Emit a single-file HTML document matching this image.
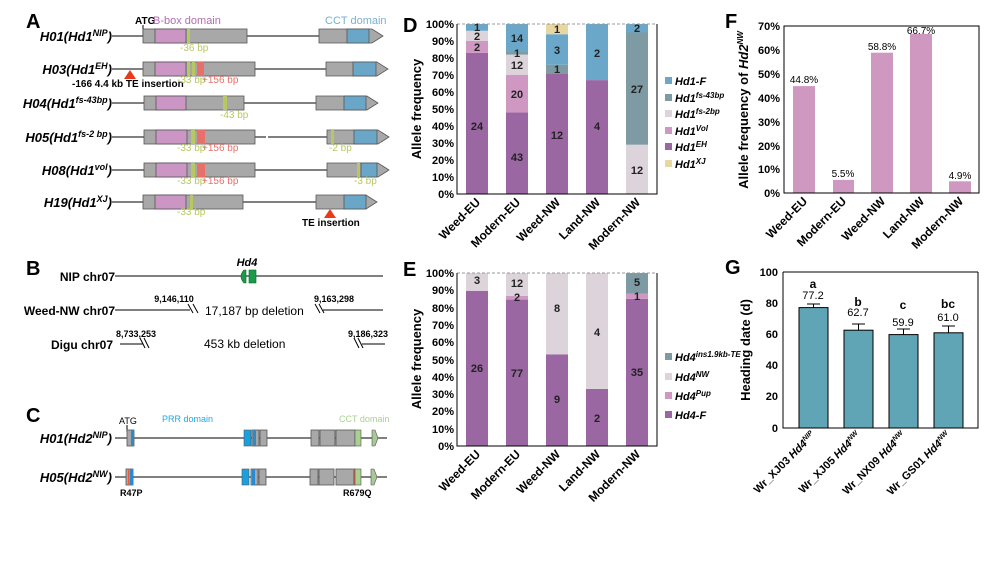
<!DOCTYPE html>
<html><head><meta charset="utf-8"><style>
html,body{margin:0;padding:0;background:#fff;}
svg{display:block;font-family:"Liberation Sans",Arial,sans-serif;}
.pl{font-size:20px;font-weight:bold;}
.rl{font-size:13px;font-weight:bold;font-style:italic;}
.sm{font-size:10px;}
.tk{font-size:11px;font-weight:bold;text-anchor:end;}
.bl{font-size:11px;font-weight:bold;text-anchor:middle;fill:#222;}
.xl{font-size:12px;font-weight:bold;text-anchor:end;}
.lg{font-size:11px;font-weight:bold;font-style:italic;}
.ex{fill:#a8a8a8;stroke:#555;stroke-width:.8;}
</style></head><body>
<svg width="996" height="561" viewBox="0 0 996 561" xmlns="http://www.w3.org/2000/svg">
<!-- Panel A -->
<text x="26" y="28" class="pl">A</text>
<text x="135" y="24" font-size="10" font-weight="bold">ATG</text>
<line x1="143" y1="25" x2="143" y2="36" stroke="#000"/>
<text x="153" y="24" font-size="11" fill="#b06db0">B-box domain</text>
<text x="325" y="24" font-size="11" fill="#7ab0d0">CCT domain</text>
<g stroke="#000" stroke-width="1">
<line x1="112" y1="36" x2="143" y2="36"/><line x1="247" y1="36" x2="319" y2="36"/>
<line x1="112" y1="69" x2="143" y2="69"/><line x1="255" y1="69" x2="326" y2="69"/>
<line x1="112" y1="103" x2="144" y2="103"/><line x1="244" y1="103" x2="316" y2="103"/>
<line x1="112" y1="137" x2="144" y2="137"/><line x1="255" y1="137" x2="266" y2="137"/><line x1="268" y1="137" x2="327" y2="137"/>
<line x1="112" y1="170" x2="144" y2="170"/><line x1="255" y1="170" x2="327" y2="170"/>
<line x1="112" y1="202" x2="143" y2="202"/><line x1="243" y1="202" x2="316" y2="202"/>
</g>
<text x="112" y="41" text-anchor="end" class="rl">H01(Hd1<tspan font-size="9" dy="-5">NIP</tspan><tspan dy="5">)</tspan></text>
<text x="112" y="74" text-anchor="end" class="rl">H03(Hd1<tspan font-size="9" dy="-5">EH</tspan><tspan dy="5">)</tspan></text>
<text x="112" y="108" text-anchor="end" class="rl">H04(Hd1<tspan font-size="9" dy="-5">fs-43bp</tspan><tspan dy="5">)</tspan></text>
<text x="112" y="142" text-anchor="end" class="rl">H05(Hd1<tspan font-size="9" dy="-5">fs-2 bp</tspan><tspan dy="5">)</tspan></text>
<text x="112" y="175" text-anchor="end" class="rl">H08(Hd1<tspan font-size="9" dy="-5">vol</tspan><tspan dy="5">)</tspan></text>
<text x="112" y="207" text-anchor="end" class="rl">H19(Hd1<tspan font-size="9" dy="-5">XJ</tspan><tspan dy="5">)</tspan></text>
<!-- row1 -->
<rect x="143" y="29" width="104" height="14" class="ex"/><rect x="155" y="29" width="31" height="14" fill="#cc96c4" stroke="#555" stroke-width=".8"/><rect x="187" y="29" width="3" height="14" fill="#b8c860"/>
<path d="M319 29H372L383 36L372 43H319Z" class="ex"/><rect x="347" y="29" width="22" height="14" fill="#6aa6c8" stroke="#555" stroke-width=".8"/>
<text x="180" y="51" font-size="10" fill="#b8c860">-36 bp</text>
<!-- row2 -->
<rect x="143" y="62" width="112" height="14" class="ex"/><rect x="155" y="62" width="31" height="14" fill="#cc96c4" stroke="#555" stroke-width=".8"/><rect x="187" y="62" width="3" height="14" fill="#b8c860"/><rect x="192" y="62" width="3" height="14" fill="#b8c860"/><rect x="197" y="62" width="7" height="14" fill="#e8706a"/>
<path d="M326 62H377L388 69L377 76H326Z" class="ex"/><rect x="353" y="62" width="23" height="14" fill="#6aa6c8" stroke="#555" stroke-width=".8"/>
<path d="M130 70L136 79H124Z" fill="#e83a1a"/>
<text x="72" y="87" font-size="10" font-weight="bold">-166 4.4 kb TE insertion</text>
<text x="177" y="83" font-size="10" fill="#b8c860">-33 bp</text><text x="202" y="83" font-size="10" fill="#e8706a">+156 bp</text>
<!-- row3 -->
<rect x="144" y="96" width="100" height="14" class="ex"/><rect x="156" y="96" width="30" height="14" fill="#cc96c4" stroke="#555" stroke-width=".8"/><rect x="223" y="96" width="4" height="14" fill="#b8c860"/>
<path d="M316 96H367L378 103L367 110H316Z" class="ex"/><rect x="344" y="96" width="22" height="14" fill="#6aa6c8" stroke="#555" stroke-width=".8"/>
<text x="220" y="118" font-size="10" fill="#b8c860">-43 bp</text>
<!-- row4 -->
<rect x="144" y="130" width="111" height="14" class="ex"/><rect x="156" y="130" width="31" height="14" fill="#cc96c4" stroke="#555" stroke-width=".8"/><rect x="191" y="130" width="4" height="14" fill="#b8c860"/><rect x="197" y="130" width="8" height="14" fill="#e8706a"/>
<path d="M327 130H378L389 137L378 144H327Z" class="ex"/><rect x="331" y="130" width="3" height="14" fill="#b8c860"/><rect x="354" y="130" width="23" height="14" fill="#6aa6c8" stroke="#555" stroke-width=".8"/>
<text x="177" y="151" font-size="10" fill="#b8c860">-33 bp</text><text x="202" y="151" font-size="10" fill="#e8706a">+156 bp</text>
<text x="329" y="151" font-size="10" fill="#b8c860">-2 bp</text>
<!-- row5 -->
<rect x="144" y="163" width="111" height="14" class="ex"/><rect x="156" y="163" width="31" height="14" fill="#cc96c4" stroke="#555" stroke-width=".8"/><rect x="191" y="163" width="4" height="14" fill="#b8c860"/><rect x="197" y="163" width="8" height="14" fill="#e8706a"/>
<path d="M327 163H378L389 170L378 177H327Z" class="ex"/><rect x="361" y="163" width="16" height="14" fill="#6aa6c8" stroke="#555" stroke-width=".8"/><rect x="357" y="163" width="3" height="14" fill="#b8c860"/>
<text x="177" y="184" font-size="10" fill="#b8c860">-33 bp</text><text x="202" y="184" font-size="10" fill="#e8706a">+156 bp</text>
<text x="354" y="184" font-size="10" fill="#b8c860">-3 bp</text>
<!-- row6 -->
<rect x="143" y="195" width="100" height="14" class="ex"/><rect x="155" y="195" width="31" height="14" fill="#cc96c4" stroke="#555" stroke-width=".8"/><rect x="190" y="195" width="3" height="14" fill="#b8c860"/>
<path d="M316 195H366L377 202L366 209H316Z" class="ex"/><rect x="344" y="195" width="22" height="14" fill="#6aa6c8" stroke="#555" stroke-width=".8"/>
<path d="M330 209L336 218H324Z" fill="#e83a1a"/>
<text x="177" y="215" font-size="10" fill="#b8c860">-33 bp</text>
<text x="302" y="226" font-size="10" font-weight="bold">TE insertion</text>

<!-- Panel B -->
<text x="26" y="275" class="pl">B</text>
<text x="115" y="281" text-anchor="end" font-size="12" font-weight="bold">NIP chr07</text>
<line x1="115" y1="276" x2="383" y2="276" stroke="#000"/>
<text x="247" y="266" text-anchor="middle" font-size="11" font-weight="bold" font-style="italic">Hd4</text>
<path d="M244 270H246V283H244Q238 276.5 244 270Z" fill="#1a9a4a" stroke="#0a6a2a" stroke-width=".6"/>
<rect x="249" y="270" width="7" height="13" fill="#1a9a4a" stroke="#0a6a2a" stroke-width=".6"/>
<text x="115" y="315" text-anchor="end" font-size="12" font-weight="bold">Weed-NW chr07</text>
<line x1="115" y1="310" x2="190" y2="310" stroke="#000"/>
<path d="M188 304L193 313M193 304L198 313" stroke="#000"/>
<text x="174" y="302" text-anchor="middle" font-size="9" font-weight="bold">9,146,110</text>
<text x="205" y="315" font-size="12">17,187 bp deletion</text>
<path d="M315 304L320 313M319 304L324 313" stroke="#000"/>
<line x1="323" y1="310" x2="383" y2="310" stroke="#000"/>
<text x="334" y="302" text-anchor="middle" font-size="9" font-weight="bold">9,163,298</text>
<text x="113" y="349" text-anchor="end" font-size="12" font-weight="bold">Digu chr07</text>
<line x1="120" y1="344" x2="143" y2="344" stroke="#000"/>
<path d="M140 338L145 348M144 338L149 348" stroke="#000"/>
<text x="136" y="337" text-anchor="middle" font-size="9" font-weight="bold">8,733,253</text>
<text x="204" y="348" font-size="12">453 kb deletion</text>
<path d="M354 338L359 348M358 338L363 348" stroke="#000"/>
<line x1="362" y1="344" x2="385" y2="344" stroke="#000"/>
<text x="368" y="337" text-anchor="middle" font-size="9" font-weight="bold">9,186,323</text>

<!-- Panel C -->
<text x="26" y="422" class="pl">C</text>
<text x="119" y="424" font-size="9">ATG</text>
<line x1="127" y1="425" x2="127" y2="432" stroke="#000"/>
<text x="162" y="422" font-size="9" fill="#22a8e0">PRR domain</text>
<text x="339" y="422" font-size="9" fill="#a8d090">CCT domain</text>
<text x="112" y="443" text-anchor="end" class="rl">H01(Hd2<tspan font-size="9" dy="-5">NIP</tspan><tspan dy="5">)</tspan></text>
<text x="112" y="482" text-anchor="end" class="rl">H05(Hd2<tspan font-size="9" dy="-5">NW</tspan><tspan dy="5">)</tspan></text>
<g>
<line x1="115" y1="438" x2="387" y2="438" stroke="#000"/>
<rect x="127" y="430" width="7" height="16" class="ex"/><rect x="131" y="430" width="3" height="16" fill="#2a8ad0"/>
<rect x="244" y="430" width="7" height="16" fill="#1aa0e0" stroke="#555" stroke-width=".6"/>
<rect x="252" y="430" width="7" height="16" class="ex"/><rect x="253" y="430" width="3" height="16" fill="#2a8ad0"/>
<rect x="260" y="430" width="7" height="16" class="ex"/>
<rect x="311" y="430" width="8" height="16" class="ex"/><rect x="320" y="430" width="15" height="16" class="ex"/><rect x="336" y="430" width="19" height="16" class="ex"/><rect x="355" y="430" width="6" height="16" fill="#a8d090" stroke="#555" stroke-width=".6"/>
<path d="M372 430H375L378 438L375 446H372Z" fill="#a8c898" stroke="#555" stroke-width=".6"/>
</g>
<g>
<line x1="115" y1="477" x2="387" y2="477" stroke="#000"/>
<rect x="126" y="469" width="7" height="16" class="ex"/><rect x="130" y="469" width="3" height="16" fill="#2a8ad0"/><rect x="128" y="469" width="1.5" height="16" fill="#e85a3a"/>
<rect x="242" y="469" width="7" height="16" fill="#1aa0e0" stroke="#555" stroke-width=".6"/>
<rect x="251" y="469" width="7" height="16" class="ex"/><rect x="252" y="469" width="3" height="16" fill="#2a8ad0"/>
<rect x="259" y="469" width="7" height="16" class="ex"/>
<rect x="310" y="469" width="8" height="16" class="ex"/><rect x="319" y="469" width="15" height="16" class="ex"/><rect x="336" y="469" width="19" height="16" class="ex"/><rect x="355" y="469" width="6" height="16" fill="#a8d090" stroke="#555" stroke-width=".6"/><rect x="353" y="469" width="1.5" height="16" fill="#e85a3a"/>
<path d="M371 469H374L377 477L374 485H371Z" fill="#a8c898" stroke="#555" stroke-width=".6"/>
</g>
<text x="120" y="496" font-size="9" font-weight="bold">R47P</text>
<text x="343" y="496" font-size="9" font-weight="bold">R679Q</text>

<!-- Panel D -->
<text x="403" y="32" class="pl">D</text>
<g>
<rect x="466" y="52.9" width="22" height="141.1" fill="#9b67a3"/><rect x="466" y="41" width="22" height="11.9" fill="#cf98c2"/><rect x="466" y="30.8" width="22" height="10.2" fill="#dcd3db"/><rect x="466" y="24" width="22" height="6.8" fill="#6ba7c8"/>
<rect x="506" y="112.4" width="22" height="81.6" fill="#9b67a3"/><rect x="506" y="75" width="22" height="37.4" fill="#cf98c2"/><rect x="506" y="54.6" width="22" height="20.4" fill="#dcd3db"/><rect x="506" y="52" width="22" height="2.6" fill="#7e9aa2"/><rect x="506" y="24" width="22" height="28" fill="#6ba7c8"/>
<rect x="546" y="73.3" width="22" height="120.7" fill="#9b67a3"/><rect x="546" y="64.8" width="22" height="8.5" fill="#7e9aa2"/><rect x="546" y="34.2" width="22" height="30.6" fill="#6ba7c8"/><rect x="546" y="24" width="22" height="10.2" fill="#e8d7a0"/>
<rect x="586" y="80.1" width="22" height="113.9" fill="#9b67a3"/><rect x="586" y="24" width="22" height="56.1" fill="#6ba7c8"/>
<rect x="626" y="144.7" width="22" height="49.3" fill="#dcd3db"/><rect x="626" y="32.5" width="22" height="112.2" fill="#7e9aa2"/><rect x="626" y="24" width="22" height="8.5" fill="#6ba7c8"/>
</g>
<line x1="457" y1="24" x2="657" y2="24" stroke="#999" stroke-dasharray="3,2"/>
<path d="M457 24V194H657V24" fill="none" stroke="#000"/>
<g class="bl">
<text x="477" y="130">24</text><text x="477" y="51">2</text><text x="477" y="40">2</text><text x="477" y="31">1</text>
<text x="517" y="161">43</text><text x="517" y="98">20</text><text x="517" y="69">12</text><text x="517" y="57">1</text><text x="517" y="42">14</text>
<text x="557" y="139">12</text><text x="557" y="73">1</text><text x="557" y="54">3</text><text x="557" y="33">1</text>
<text x="597" y="130">4</text><text x="597" y="57">2</text>
<text x="637" y="174">12</text><text x="637" y="93">27</text><text x="637" y="32">2</text>
</g>
<g class="tk">
<text x="454" y="28">100%</text><text x="454" y="45">90%</text><text x="454" y="62">80%</text><text x="454" y="79">70%</text><text x="454" y="96">60%</text><text x="454" y="113">50%</text><text x="454" y="130">40%</text><text x="454" y="147">30%</text><text x="454" y="164">20%</text><text x="454" y="181">10%</text><text x="454" y="198">0%</text>
</g>
<text transform="translate(421,109) rotate(-90)" text-anchor="middle" font-size="13" font-weight="bold">Allele frequency</text>
<g class="xl">
<text transform="translate(481,203) rotate(-45)">Weed-EU</text>
<text transform="translate(521,203) rotate(-45)">Modern-EU</text>
<text transform="translate(561,203) rotate(-45)">Weed-NW</text>
<text transform="translate(601,203) rotate(-45)">Land-NW</text>
<text transform="translate(641,203) rotate(-45)">Modern-NW</text>
</g>
<g class="lg">
<rect x="665" y="77" width="7" height="7" fill="#6ba7c8"/><text x="675" y="85">Hd1-F</text>
<rect x="665" y="94" width="7" height="7" fill="#7e9aa2"/><text x="675" y="102">Hd1<tspan font-size="8" dy="-4">fs-43bp</tspan></text>
<rect x="665" y="110" width="7" height="7" fill="#dcd3db"/><text x="675" y="118">Hd1<tspan font-size="8" dy="-4">fs-2bp</tspan></text>
<rect x="665" y="127" width="7" height="7" fill="#cf98c2"/><text x="675" y="135">Hd1<tspan font-size="8" dy="-4">Vol</tspan></text>
<rect x="665" y="143" width="7" height="7" fill="#9b67a3"/><text x="675" y="151">Hd1<tspan font-size="8" dy="-4">EH</tspan></text>
<rect x="665" y="160" width="7" height="7" fill="#e8d7a0"/><text x="675" y="168">Hd1<tspan font-size="8" dy="-4">XJ</tspan></text>
</g>

<!-- Panel E -->
<text x="403" y="276" class="pl">E</text>
<g>
<rect x="466" y="290.8" width="22" height="155.2" fill="#9b67a3"/><rect x="466" y="273" width="22" height="17.8" fill="#dcd3db"/>
<rect x="506" y="299.6" width="22" height="146.4" fill="#9b67a3"/><rect x="506" y="295.8" width="22" height="3.8" fill="#cf98c2"/><rect x="506" y="273" width="22" height="22.8" fill="#dcd3db"/>
<rect x="546" y="354.3" width="22" height="91.7" fill="#9b67a3"/><rect x="546" y="273" width="22" height="81.3" fill="#dcd3db"/>
<rect x="586" y="388.9" width="22" height="57.1" fill="#9b67a3"/><rect x="586" y="273" width="22" height="115.9" fill="#dcd3db"/>
<rect x="626" y="298.9" width="22" height="147.1" fill="#9b67a3"/><rect x="626" y="293.8" width="22" height="5.1" fill="#cf98c2"/><rect x="626" y="273" width="22" height="20.8" fill="#7e9aa2"/>
</g>
<line x1="457" y1="273" x2="657" y2="273" stroke="#999" stroke-dasharray="3,2"/>
<path d="M457 273V446H657V273" fill="none" stroke="#000"/>
<g class="bl">
<text x="477" y="372">26</text><text x="477" y="284">3</text>
<text x="517" y="377">77</text><text x="517" y="301">2</text><text x="517" y="287">12</text>
<text x="557" y="403">9</text><text x="557" y="312">8</text>
<text x="597" y="422">2</text><text x="597" y="336">4</text>
<text x="637" y="376">35</text><text x="637" y="300">1</text><text x="637" y="286">5</text>
</g>
<g class="tk">
<text x="454" y="277">100%</text><text x="454" y="294">90%</text><text x="454" y="312">80%</text><text x="454" y="329">70%</text><text x="454" y="346">60%</text><text x="454" y="364">50%</text><text x="454" y="381">40%</text><text x="454" y="398">30%</text><text x="454" y="415">20%</text><text x="454" y="433">10%</text><text x="454" y="450">0%</text>
</g>
<text transform="translate(421,359) rotate(-90)" text-anchor="middle" font-size="13" font-weight="bold">Allele frequency</text>
<g class="xl">
<text transform="translate(481,455) rotate(-45)">Weed-EU</text>
<text transform="translate(521,455) rotate(-45)">Modern-EU</text>
<text transform="translate(561,455) rotate(-45)">Weed-NW</text>
<text transform="translate(601,455) rotate(-45)">Land-NW</text>
<text transform="translate(641,455) rotate(-45)">Modern-NW</text>
</g>
<g class="lg">
<rect x="665" y="353" width="7" height="7" fill="#7e9aa2"/><text x="675" y="361">Hd4<tspan font-size="8" dy="-4">ins1.9kb-TE</tspan></text>
<rect x="665" y="373" width="7" height="7" fill="#dcd3db"/><text x="675" y="381">Hd4<tspan font-size="8" dy="-4">NW</tspan></text>
<rect x="665" y="392" width="7" height="7" fill="#cf98c2"/><text x="675" y="400">Hd4<tspan font-size="8" dy="-4">Pup</tspan></text>
<rect x="665" y="411" width="7" height="7" fill="#9b67a3"/><text x="675" y="419">Hd4-F</text>
</g>

<!-- Panel F -->
<text x="725" y="28" class="pl">F</text>
<g fill="#cf98c0">
<rect x="793" y="86.1" width="22" height="106.9"/><rect x="833" y="179.9" width="21" height="13.1"/><rect x="871" y="52.7" width="22" height="140.3"/><rect x="910" y="33.9" width="22" height="159.1"/><rect x="949" y="181.3" width="22" height="11.7"/>
</g>
<rect x="784" y="26" width="195" height="167" fill="none" stroke="#000"/>
<g font-size="10" text-anchor="middle">
<text x="804" y="83">44.8%</text><text x="843" y="177">5.5%</text><text x="882" y="50">58.8%</text><text x="921" y="34">66.7%</text><text x="960" y="179">4.9%</text>
</g>
<g class="tk">
<text x="780" y="30">70%</text><text x="780" y="54">60%</text><text x="780" y="78">50%</text><text x="780" y="102">40%</text><text x="780" y="126">30%</text><text x="780" y="150">20%</text><text x="780" y="173">10%</text><text x="780" y="197">0%</text>
</g>
<text transform="translate(748,110) rotate(-90)" text-anchor="middle" font-size="13" font-weight="bold">Allele frequency of <tspan font-style="italic">Hd2</tspan><tspan font-size="8" dy="-5" font-style="italic">NW</tspan></text>
<g class="xl">
<text transform="translate(808,202) rotate(-45)">Weed-EU</text>
<text transform="translate(847,202) rotate(-45)">Modern-EU</text>
<text transform="translate(886,202) rotate(-45)">Weed-NW</text>
<text transform="translate(925,202) rotate(-45)">Land-NW</text>
<text transform="translate(964,202) rotate(-45)">Modern-NW</text>
</g>

<!-- Panel G -->
<text x="725" y="274" class="pl">G</text>
<g fill="#5fa5b5" stroke="#000" stroke-width="1">
<rect x="799" y="307.6" width="29" height="120.4"/><rect x="844" y="330.2" width="29" height="97.8"/><rect x="889" y="334.6" width="29" height="93.4"/><rect x="934" y="332.8" width="29" height="95.2"/>
</g>
<g stroke="#000" stroke-width="1">
<path d="M813.5 307.6V304M807 304H820"/><path d="M858.5 330.2V324M852 324H865"/><path d="M903.5 334.6V329M897 329H910"/><path d="M948.5 332.8V326M942 326H955"/>
</g>
<path d="M783 272V428H978V272" fill="none" stroke="#000"/>
<line x1="783" y1="272" x2="978" y2="272" stroke="#000"/>
<g font-size="11" text-anchor="middle">
<text x="813" y="299">77.2</text><text x="858" y="316">62.7</text><text x="903" y="326">59.9</text><text x="948" y="321">61.0</text>
</g>
<g font-size="12" font-weight="bold" text-anchor="middle">
<text x="813" y="288">a</text><text x="858" y="306">b</text><text x="903" y="309">c</text><text x="948" y="308">bc</text>
</g>
<g class="tk">
<text x="778" y="276">100</text><text x="778" y="307">80</text><text x="778" y="338">60</text><text x="778" y="369">40</text><text x="778" y="400">20</text><text x="778" y="432">0</text>
</g>
<text transform="translate(750,350) rotate(-90)" text-anchor="middle" font-size="13" font-weight="bold">Heading date (d)</text>
<g font-size="11" font-weight="bold" text-anchor="end">
<text transform="translate(816,436) rotate(-45)">Wr_XJ03 <tspan font-style="italic">Hd4</tspan><tspan font-size="7" dy="-4" font-style="italic">NIP</tspan></text>
<text transform="translate(861,436) rotate(-45)">Wr_XJ05 <tspan font-style="italic">Hd4</tspan><tspan font-size="7" dy="-4" font-style="italic">NW</tspan></text>
<text transform="translate(906,436) rotate(-45)">Wr_NX09 <tspan font-style="italic">Hd4</tspan><tspan font-size="7" dy="-4" font-style="italic">NW</tspan></text>
<text transform="translate(951,436) rotate(-45)">Wr_GS01 <tspan font-style="italic">Hd4</tspan><tspan font-size="7" dy="-4" font-style="italic">NW</tspan></text>
</g>
</svg>
</body></html>
